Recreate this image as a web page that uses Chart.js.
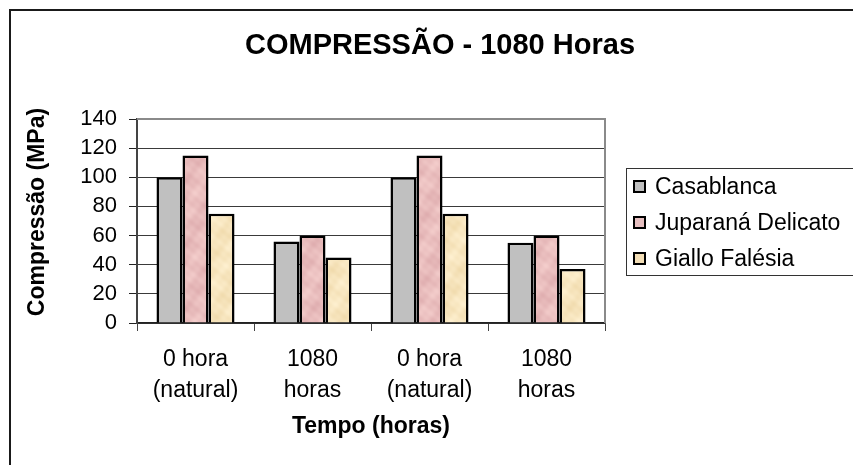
<!DOCTYPE html>
<html>
<head>
<meta charset="utf-8">
<script src="https://cdn.jsdelivr.net/npm/chart.js@4"></script>
<style>
  html, body { margin: 0; padding: 0; background: #fff; }
  #wrap { width: 853px; height: 465px; }
</style>
</head>
<body>
<div id="wrap"><canvas id="chart" width="853" height="465"></canvas></div>
<script>
const chartTitle = 'COMPRESSÃO - 1080 Horas';
const xTitle = 'Tempo (horas)';
const yTitle = 'Compressão (MPa)';

const categories = [
  ['0 hora', '(natural)'],
  ['1080', 'horas'],
  ['0 hora', '(natural)'],
  ['1080', 'horas'],
];

const seriesNames = ['Casablanca', 'Juparaná Delicato', 'Giallo Falésia'];
const casablanca = [100, 56, 100, 55];
const juparana = [115, 60, 115, 60];
const giallo = [75, 45, 75, 37];

const yMin = 0;
const yMax = 140;
const yStep = 20;

const FONT = "'Liberation Sans', Arial, sans-serif";

// Marbled fill used for the two stone textures
function mottled(dark, light) {
  const size = 64;
  const c = document.createElement('canvas');
  c.width = size;
  c.height = size;
  const g = c.getContext('2d');
  const img = g.createImageData(size, size);
  const k = (2 * Math.PI) / size;
  for (let y = 0; y < size; y++) {
    for (let x = 0; x < size; x++) {
      let t = Math.sin(k * (2 * x + y) + 0.7) * 0.35 +
        Math.sin(k * (3 * y - x) + 1.9) * 0.3 +
        Math.sin(k * (5 * x + 4 * y) + 0.2) * 0.2 +
        Math.sin(k * (7 * y - 6 * x) + 2.4) * 0.15;
      t = 0.5 + t * 0.5;
      const i = (y * size + x) * 4;
      for (let ch = 0; ch < 3; ch++) {
        img.data[i + ch] = Math.round(dark[ch] + (light[ch] - dark[ch]) * t);
      }
      img.data[i + 3] = 255;
    }
  }
  g.putImageData(img, 0, 0);
  return document.getElementById('chart').getContext('2d').createPattern(c, 'repeat');
}

const grayFill = '#c0c0c0';
const pinkFill = mottled([222, 172, 174], [244, 206, 204]);
const tanFill = mottled([240, 218, 172], [254, 240, 208]);
const legendFills = ['#c0c0c0', '#e6bfc0', '#f3deb6'];

// Frame, plot border, titles and boxed legend
const decorations = {
  id: 'decorations',
  beforeDraw(chart) {
    const ctx = chart.ctx;
    ctx.save();
    ctx.fillStyle = '#fff';
    ctx.fillRect(0, 0, chart.width, chart.height);
    ctx.strokeStyle = '#1a1a1a';
    ctx.lineWidth = 2;
    ctx.beginPath();
    ctx.moveTo(10, chart.height);
    ctx.lineTo(10, 10);
    ctx.lineTo(chart.width, 10);
    ctx.stroke();
    ctx.restore();
  },
  afterDraw(chart) {
    const ctx = chart.ctx;
    const a = chart.chartArea;
    ctx.save();

    // top and right edges of the plot area
    ctx.strokeStyle = '#8a8a8a';
    ctx.lineWidth = 2;
    ctx.beginPath();
    ctx.moveTo(a.left, a.top);
    ctx.lineTo(a.right, a.top);
    ctx.lineTo(a.right, a.bottom);
    ctx.stroke();

    // chart title
    ctx.fillStyle = '#000';
    ctx.font = 'bold 29px ' + FONT;
    ctx.textAlign = 'center';
    ctx.textBaseline = 'middle';
    ctx.fillText(chartTitle, 440, 46);

    // value axis title
    ctx.save();
    ctx.translate(38, 212);
    ctx.rotate(-Math.PI / 2);
    ctx.font = 'bold 23px ' + FONT;
    ctx.fillText(yTitle, 0, 0);
    ctx.restore();

    // legend
    ctx.strokeStyle = '#333';
    ctx.lineWidth = 1;
    ctx.strokeRect(626.5, 168.5, 240, 107);
    ctx.font = '23px ' + FONT;
    ctx.textAlign = 'left';
    const rows = [187, 223, 259];
    chart.data.datasets.forEach((ds, i) => {
      ctx.fillStyle = legendFills[i];
      ctx.fillRect(634, rows[i] - 6, 11, 11);
      ctx.strokeStyle = '#000';
      ctx.lineWidth = 2;
      ctx.strokeRect(634, rows[i] - 6, 11, 11);
      ctx.fillStyle = '#000';
      ctx.fillText(ds.label, 655, rows[i] + 1);
    });
    ctx.restore();
  },
};

const barStyle = {
  borderColor: '#000',
  borderWidth: 2.5,
  categoryPercentage: 0.667,
  barPercentage: 1.0,
};

new Chart(document.getElementById('chart'), {
  type: 'bar',
  data: {
    labels: categories,
    datasets: [
      { label: seriesNames[0], data: casablanca, backgroundColor: grayFill, ...barStyle },
      { label: seriesNames[1], data: juparana, backgroundColor: pinkFill, ...barStyle },
      { label: seriesNames[2], data: giallo, backgroundColor: tanFill, ...barStyle },
    ],
  },
  options: {
    responsive: false,
    animation: false,
    layout: { padding: { left: 0, top: 119, right: 248, bottom: 0 } },
    plugins: {
      legend: { display: false },
      title: { display: false },
      tooltip: { enabled: false },
    },
    scales: {
      x: {
        afterFit(scale) { scale.height = 142; },
        grid: {
          offset: true,
          drawOnChartArea: false,
          drawTicks: true,
          tickLength: 8,
          tickColor: '#444',
          tickWidth: 1,
        },
        border: { color: '#222', width: 1.5 },
        ticks: {
          color: '#000',
          font: { family: FONT, size: 23, lineHeight: 1.35 },
          padding: 13,
          maxRotation: 0,
          autoSkip: false,
        },
        title: {
          display: true,
          text: xTitle,
          color: '#000',
          font: { family: FONT, size: 23, weight: 'bold' },
          padding: { top: 0, bottom: 25 },
        },
      },
      y: {
        min: yMin,
        max: yMax,
        afterFit(scale) { scale.width = 137; },
        grid: {
          color: '#3a3a3a',
          lineWidth: 1,
          drawTicks: true,
          tickLength: 8,
          tickColor: '#222',
        },
        border: { color: '#444', width: 2 },
        ticks: {
          stepSize: yStep,
          autoSkip: false,
          color: '#000',
          font: { family: FONT, size: 22 },
          padding: 12,
        },
        title: { display: false },
      },
    },
  },
  plugins: [decorations],
});
</script>
</body>
</html>
